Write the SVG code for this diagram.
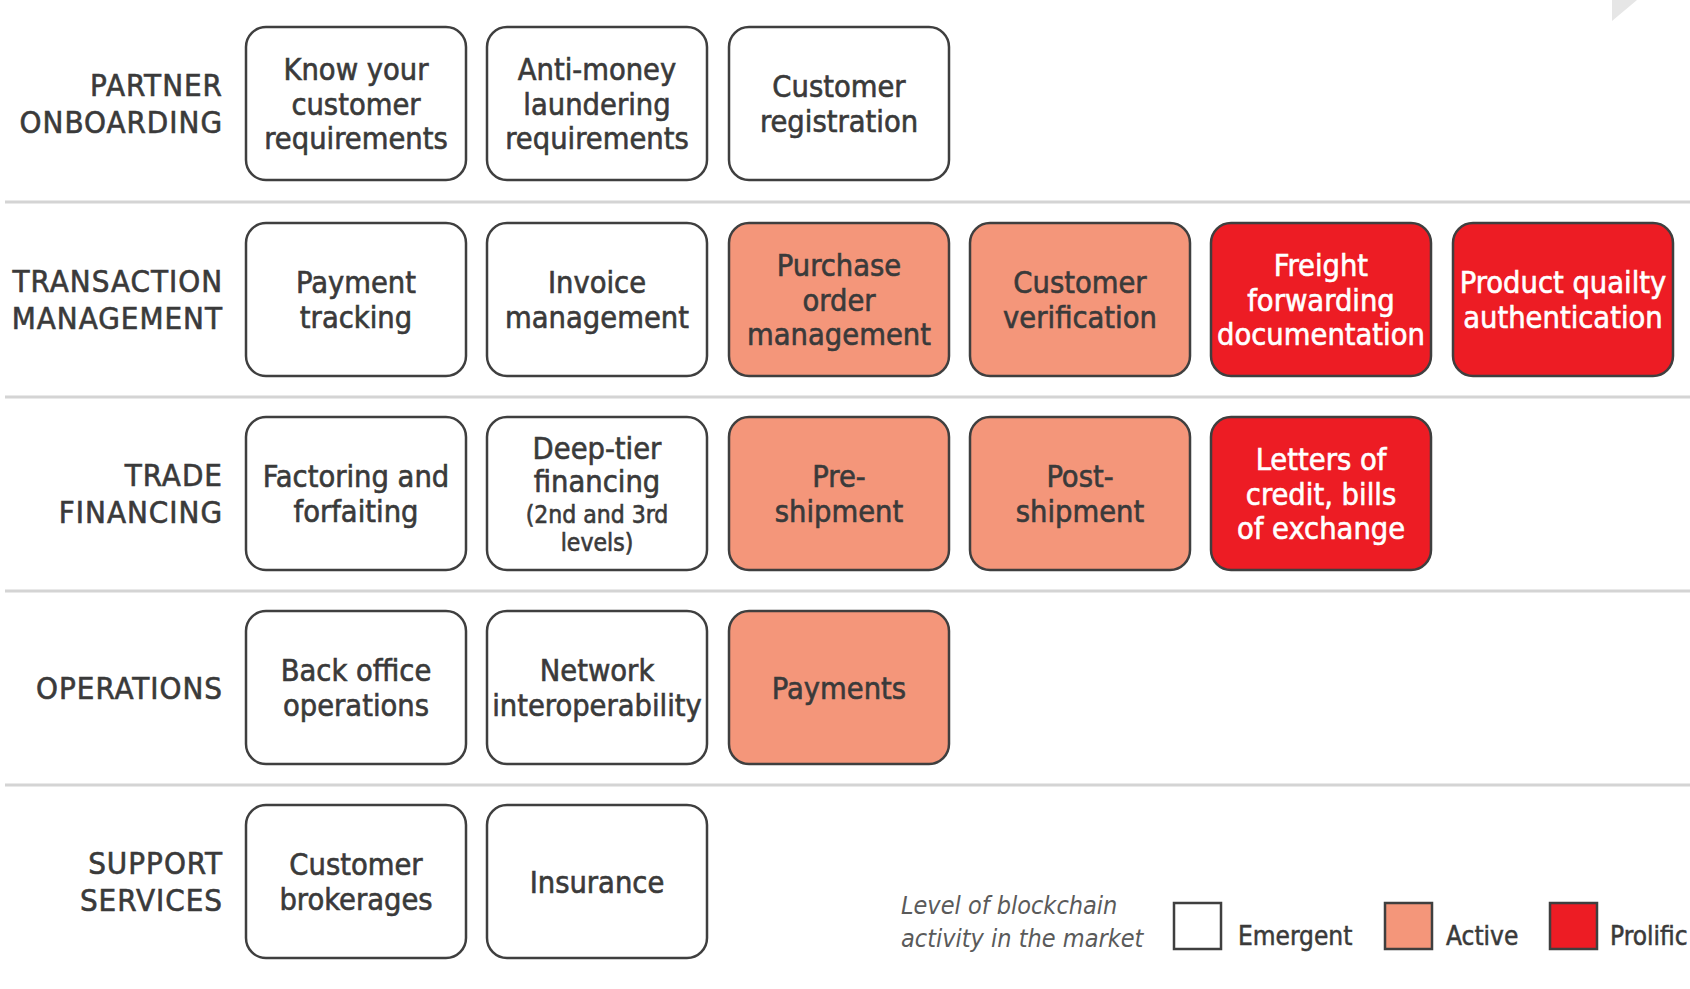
<svg xmlns="http://www.w3.org/2000/svg" width="1690" height="989" viewBox="0 0 1690 989">
<style>
.box{stroke:#3f3f3f;stroke-width:2.5}
.em{fill:#ffffff}
.ac{fill:#f4967a}
.pr{fill:#ed1c24}
.t{font-family:'DejaVu Sans Condensed','DejaVu Sans',sans-serif;font-stretch:condensed;font-size:30.5px;fill:#3a3a3a;stroke:#3a3a3a;stroke-width:0.6px;text-anchor:middle}
.w{fill:#ffffff;stroke:#ffffff}
.s{font-size:24.5px}
.lbl{font-family:'DejaVu Sans Condensed','DejaVu Sans',sans-serif;font-stretch:condensed;font-size:31px;letter-spacing:1px;fill:#3a3a3a;stroke:#3a3a3a;stroke-width:0.6px;text-anchor:end}
.leg{font-family:'DejaVu Sans Condensed','DejaVu Sans',sans-serif;font-stretch:condensed;font-size:26px;fill:#3a3a3a;stroke:#3a3a3a;stroke-width:0.5px}
.it{font-size:25px;font-style:italic;fill:#5a5a5a;stroke:none}
.sep{stroke:#d4d4d4;stroke-width:3}
</style>
<rect width="1690" height="989" fill="#ffffff"/>
<polygon points="1612,0 1637,0 1612,21" fill="#e6e6e6"/>
<g id="separators">
<line class="sep" x1="5" y1="202" x2="1690" y2="202"/>
<line class="sep" x1="5" y1="397" x2="1690" y2="397"/>
<line class="sep" x1="5" y1="591" x2="1690" y2="591"/>
<line class="sep" x1="5" y1="785" x2="1690" y2="785"/>
</g>
<g id="row-labels">
<text class="lbl" x="223" y="96">PARTNER</text>
<text class="lbl" x="223" y="133">ONBOARDING</text>
<text class="lbl" x="223" y="291.5">TRANSACTION</text>
<text class="lbl" x="223" y="328.5">MANAGEMENT</text>
<text class="lbl" x="223" y="485.5">TRADE</text>
<text class="lbl" x="223" y="522.5">FINANCING</text>
<text class="lbl" x="223" y="698.5">OPERATIONS</text>
<text class="lbl" x="223" y="873.5">SUPPORT</text>
<text class="lbl" x="223" y="910.5">SERVICES</text>
</g>
<g id="connectors"></g>
<!-- Row 1 -->
<g id="kyc"><rect class="box em" x="246" y="27" width="220" height="153" rx="20"/>
<text class="t" x="356" y="80">Know your</text><text class="t" x="356" y="114.5">customer</text><text class="t" x="356" y="149">requirements</text></g>
<g id="aml"><rect class="box em" x="487" y="27" width="220" height="153" rx="20"/>
<text class="t" x="597" y="80">Anti-money</text><text class="t" x="597" y="114.5">laundering</text><text class="t" x="597" y="149">requirements</text></g>
<g id="custreg"><rect class="box em" x="729" y="27" width="220" height="153" rx="20"/>
<text class="t" x="839" y="97">Customer</text><text class="t" x="839" y="132">registration</text></g>
<!-- Row 2 -->
<g id="paytrack"><rect class="box em" x="246" y="223" width="220" height="153" rx="20"/>
<text class="t" x="356" y="293">Payment</text><text class="t" x="356" y="328">tracking</text></g>
<g id="invoice"><rect class="box em" x="487" y="223" width="220" height="153" rx="20"/>
<text class="t" x="597" y="293">Invoice</text><text class="t" x="597" y="328">management</text></g>
<g id="po"><rect class="box ac" x="729" y="223" width="220" height="153" rx="20"/>
<text class="t" x="839" y="276">Purchase</text><text class="t" x="839" y="310.5">order</text><text class="t" x="839" y="345">management</text></g>
<g id="custver"><rect class="box ac" x="970" y="223" width="220" height="153" rx="20"/>
<text class="t" x="1080" y="293">Customer</text><text class="t" x="1080" y="328">verification</text></g>
<g id="freight"><rect class="box pr" x="1211" y="223" width="220" height="153" rx="20"/>
<text class="t w" x="1321" y="276">Freight</text><text class="t w" x="1321" y="310.5">forwarding</text><text class="t w" x="1321" y="345">documentation</text></g>
<g id="quality"><rect class="box pr" x="1453" y="223" width="220" height="153" rx="20"/>
<text class="t w" x="1563" y="293">Product quailty</text><text class="t w" x="1563" y="328">authentication</text></g>
<!-- Row 3 -->
<g id="factoring"><rect class="box em" x="246" y="417" width="220" height="153" rx="20"/>
<text class="t" x="356" y="487">Factoring and</text><text class="t" x="356" y="522">forfaiting</text></g>
<g id="deeptier"><rect class="box em" x="487" y="417" width="220" height="153" rx="20"/>
<text class="t" x="597" y="459">Deep-tier</text><text class="t" x="597" y="492">financing</text><text class="t s" x="597" y="523">(2nd and 3rd</text><text class="t s" x="597" y="551">levels)</text></g>
<g id="preship"><rect class="box ac" x="729" y="417" width="220" height="153" rx="20"/>
<text class="t" x="839" y="487">Pre-</text><text class="t" x="839" y="522">shipment</text></g>
<g id="postship"><rect class="box ac" x="970" y="417" width="220" height="153" rx="20"/>
<text class="t" x="1080" y="487">Post-</text><text class="t" x="1080" y="522">shipment</text></g>
<g id="loc"><rect class="box pr" x="1211" y="417" width="220" height="153" rx="20"/>
<text class="t w" x="1321" y="470">Letters of</text><text class="t w" x="1321" y="504.5">credit, bills</text><text class="t w" x="1321" y="539">of exchange</text></g>
<!-- Row 4 -->
<g id="backoffice"><rect class="box em" x="246" y="611" width="220" height="153" rx="20"/>
<text class="t" x="356" y="681">Back office</text><text class="t" x="356" y="716">operations</text></g>
<g id="network"><rect class="box em" x="487" y="611" width="220" height="153" rx="20"/>
<text class="t" x="597" y="681">Network</text><text class="t" x="597" y="716">interoperability</text></g>
<g id="payments"><rect class="box ac" x="729" y="611" width="220" height="153" rx="20"/>
<text class="t" x="839" y="698.5">Payments</text></g>
<!-- Row 5 -->
<g id="brokerages"><rect class="box em" x="246" y="805" width="220" height="153" rx="20"/>
<text class="t" x="356" y="875">Customer</text><text class="t" x="356" y="910">brokerages</text></g>
<g id="insurance"><rect class="box em" x="487" y="805" width="220" height="153" rx="20"/>
<text class="t" x="597" y="892.5">Insurance</text></g>
<!-- Legend -->
<g id="legend">
<text class="leg it" x="901" y="914">Level of blockchain</text>
<text class="leg it" x="901" y="947">activity in the market</text>
<rect class="box em" x="1174" y="903" width="47" height="46" stroke-width="3"/>
<text class="leg" x="1238" y="945">Emergent</text>
<rect class="box ac" x="1385" y="903" width="47" height="46" stroke-width="3"/>
<text class="leg" x="1446" y="945">Active</text>
<rect class="box pr" x="1550" y="903" width="47" height="46" stroke-width="3"/>
<text class="leg" x="1610" y="945">Prolific</text>
</g>
</svg>
